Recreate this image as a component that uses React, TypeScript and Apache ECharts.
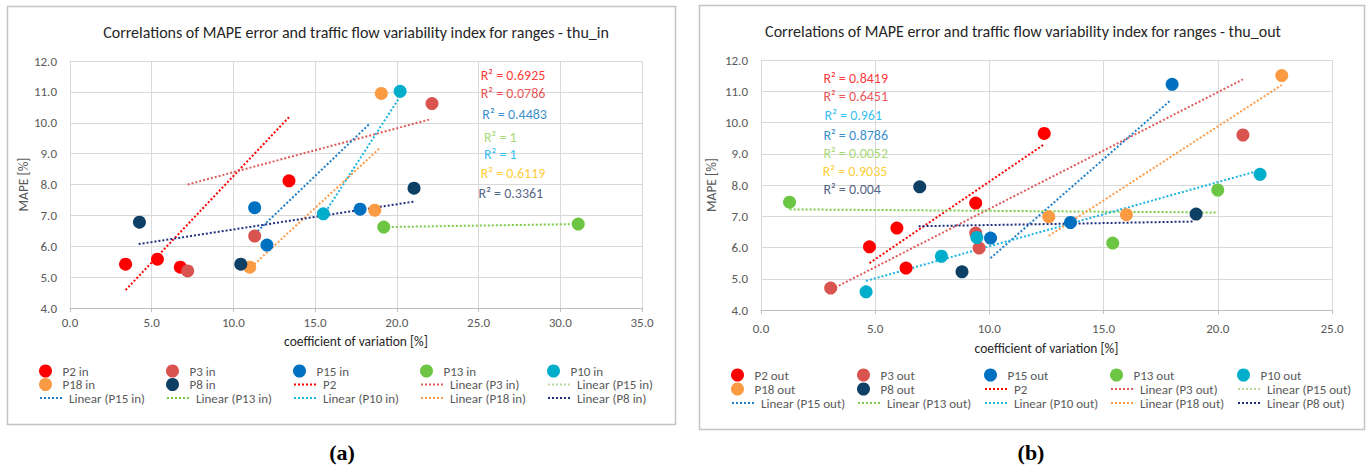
import React, { useEffect, useRef } from "react";
import * as echarts from "echarts";

const FONT = "Carlito, Lato, 'Noto Sans', sans-serif";

// ---------- chart (a): thu_in ----------
const inTitle = "Correlations of MAPE error and traffic flow variability index for ranges - thu_in";
const inP2 = [[3.4, 5.42], [5.35, 5.58], [6.75, 5.32], [13.4, 8.12]];
const inP3 = [[7.2, 5.2], [11.3, 6.33], [22.15, 10.62]];
const inP15 = [[11.3, 7.25], [12.05, 6.04], [17.75, 7.2]];
const inP13 = [[19.2, 6.62], [31.1, 6.72]];
const inP10 = [[15.5, 7.05], [20.2, 11.02]];
const inP18 = [[11.0, 5.32], [18.65, 7.17], [19.05, 10.95]];
const inP8 = [[4.25, 6.78], [10.45, 5.42], [21.05, 7.88]];

const inTrendP2 = [[3.4, 4.58], [13.4, 10.18]];
const inTrendP3 = [[7.2, 8.0], [22.1, 10.12]];
const inTrendP15 = [[11.3, 6.4], [18.3, 9.95]];
const inTrendP13 = [[19.2, 6.62], [31.1, 6.72]];
const inTrendP10 = [[15.5, 7.0], [20.2, 10.85]];
const inTrendP18 = [[11.1, 5.33], [19.0, 9.2]];
const inTrendP8 = [[4.2, 6.07], [21.1, 7.45]];

const inR2Text = ["R² = 0.6925", "R² = 0.0786", "R² = 0.4483", "R² = 1", "R² = 1", "R² = 0.6119", "R² = 0.3361"];
const inR2X = [25.1, 25.1, 25.2, 25.3, 25.3, 25.1, 24.97];
const inR2Y = [11.54, 10.96, 10.28, 9.53, 8.98, 8.37, 7.72];

// ---------- chart (b): thu_out ----------
const outTitle = "Correlations of MAPE error and traffic flow variability index for ranges - thu_out";
const outP2 = [[4.75, 6.02], [5.95, 6.62], [6.35, 5.34], [9.4, 7.42], [12.4, 9.65]];
const outP3 = [[3.05, 4.7], [9.4, 6.46], [9.55, 5.98], [21.1, 9.6]];
const outP15 = [[10.05, 6.3], [13.55, 6.8], [18.0, 11.22]];
const outP13 = [[1.25, 7.45], [15.4, 6.14], [20.0, 7.84]];
const outP10 = [[4.6, 4.58], [7.9, 5.72], [9.45, 6.32], [21.85, 8.34]];
const outP18 = [[12.6, 6.98], [16.0, 7.05], [22.8, 11.5]];
const outP8 = [[6.95, 7.94], [8.8, 5.22], [19.05, 7.07]];

const outTrendP2 = [[4.75, 5.5], [12.35, 9.28]];
const outTrendP3 = [[3.25, 4.72], [21.1, 11.38]];
const outTrendP15 = [[10.05, 5.66], [17.95, 10.72]];
const outTrendP13 = [[1.25, 7.22], [20.0, 7.12]];
const outTrendP10 = [[4.6, 4.93], [21.6, 8.42]];
const outTrendP18 = [[12.6, 6.37], [22.8, 11.2]];
const outTrendP8 = [[6.9, 6.68], [18.9, 6.83]];

const outR2Text = ["R² = 0.8419", "R² = 0.6451", "R² = 0.961", "R² = 0.8786", "R² = 0.0052", "R² = 0.9035", "R² = 0.004"];
const outR2X = [2.71, 2.71, 2.76, 2.71, 2.71, 2.68, 2.71];
const outR2Y = [11.42, 10.82, 10.21, 9.57, 9.02, 8.42, 7.87];

// axes
const inXRange = [0, 35, 5];
const outXRange = [0, 25, 5];
const yRange = [4, 12, 1];

// colours
const C = {
  p2: "#FF0000",
  p3: "#D9534F",
  p15: "#0070C0",
  p13: "#6CC644",
  p10: "#00AECB",
  p18: "#FA9B43",
  p8: "#0E4066",
  t3: "#E05A5A",
  t15: "#1F7FC8",
  t13: "#7ACC48",
  t10: "#1CB4E0",
  t18: "#FF9A45",
  t8: "#1F2F80",
  light: "#B7DB9C",
};
const inR2Color = ["#FF0000", "#E8262A", "#0070C0", "#92D050", "#00B0F0", "#FFC000", "#1F3864"];
const outR2Color = ["#FF0000", "#E8262A", "#00B0F0", "#0070C0", "#92D050", "#FFC000", "#1F3864"];

function scatter(name: string, data: number[][], color: string, ai: number) {
  return { type: "scatter", name, data, xAxisIndex: ai, yAxisIndex: ai, symbolSize: 13, color, itemStyle: { color, opacity: 1 }, z: 4 };
}
function trend(name: string, data: number[][], color: string, ai: number, width = 2) {
  return {
    type: "line", name, data, xAxisIndex: ai, yAxisIndex: ai, symbol: "none", color,
    lineStyle: { color, width, type: "dotted" }, z: 3, silent: true,
  };
}
function r2(name: string, xs: number[], ys: number[], texts: string[], colors: string[], ai: number) {
  return {
    type: "scatter", name, xAxisIndex: ai, yAxisIndex: ai, symbolSize: 1, silent: true,
    itemStyle: { color: "rgba(0,0,0,0)" }, z: 6,
    label: { show: true, position: "right", distance: 0, fontSize: 14, fontFamily: FONT },
    data: xs.map((x, i) => ({ value: [x, ys[i]], label: { formatter: texts[i], color: colors[i] } })),
  };
}

function axes(ai: number, xr: number[], grid: any) {
  const label = { color: "#595959", fontSize: 13, fontFamily: FONT, formatter: (v: number) => v.toFixed(1) };
  return {
    x: {
      type: "value", gridIndex: ai, min: xr[0], max: xr[1], interval: xr[2],
      name: "coefficient of variation [%]", nameLocation: "middle", nameGap: grid.xGap,
      nameTextStyle: { color: "#262626", fontSize: 13.5, fontFamily: FONT },
      axisLine: { show: true, lineStyle: { color: "#BFBFBF" } },
      axisTick: { show: true, length: 4, lineStyle: { color: "#BFBFBF" } },
      axisLabel: { ...label, margin: grid.xMargin },
      splitLine: { show: true, lineStyle: { color: "#D9D9D9" } },
    },
    y: {
      type: "value", gridIndex: ai, min: yRange[0], max: yRange[1], interval: yRange[2],
      name: "MAPE [%]", nameLocation: "middle", nameGap: grid.yGap,
      nameTextStyle: { color: "#595959", fontSize: 13.5, fontFamily: FONT },
      axisLine: { show: true, lineStyle: { color: "#D9D9D9" } },
      axisTick: { show: false },
      axisLabel: { ...label, margin: 13 },
      splitLine: { show: true, lineStyle: { color: "#D9D9D9" } },
    },
  };
}

const inLegend = [
  "P2 in", "P3 in", "P15 in", "P13 in", "P10 in",
  "P18 in", "P8 in", "P2", "Linear (P3 in)", "Linear (P15 in) ",
  "Linear (P15 in)", "Linear (P13 in)", "Linear (P10 in)", "Linear (P18 in)", "Linear (P8 in)",
];
const outLegend = [
  "P2 out", "P3 out", "P15 out", "P13 out", "P10 out",
  "P18 out", "P8 out", "P2", "Linear (P3 out)", "Linear (P15 out) ",
  "Linear (P15 out)", "Linear (P13 out)", "Linear (P10 out)", "Linear (P18 out)", "Linear (P8 out)",
];

function legends(names: string[], cols: number[], rows: number[]) {
  return names.map((n, i) => {
    const isLine = i >= 7;
    return {
      data: [isLine ? { name: n, itemStyle: { opacity: 0, borderWidth: 0 } } : { name: n }],
      left: cols[i % 5],
      top: rows[Math.floor(i / 5)],
      orient: "horizontal",
      itemWidth: 24,
      itemHeight: 13,
      itemGap: 0,
      padding: 0,
      selectedMode: false,
      textStyle: { color: "#595959", fontSize: 13, fontFamily: FONT },
    };
  });
}

export default function App() {
  const ref = useRef<HTMLDivElement>(null);
  useEffect(() => {
    if (!ref.current) return;
    const chart = echarts.init(ref.current, null, { renderer: "svg" });
    const a = axes(0, inXRange, { xGap: 26, xMargin: 8, yGap: 40 });
    const b = axes(1, outXRange, { xGap: 31, xMargin: 12, yGap: 43 });
    const titleStyle = { fontSize: 16, fontWeight: "normal", color: "#262626", fontFamily: FONT };
    const option: any = {
      animation: false,
      backgroundColor: "#ffffff",
      textStyle: { fontFamily: FONT },
      title: [
        { text: inTitle, left: 356, top: 24, textAlign: "center", padding: 0, textStyle: titleStyle },
        { text: outTitle, left: 1023, top: 23, textAlign: "center", padding: 0, textStyle: titleStyle },
      ],
      grid: [
        { left: 70, top: 61, width: 572, height: 247 },
        { left: 761, top: 60, width: 571, height: 250 },
      ],
      xAxis: [a.x, b.x],
      yAxis: [a.y, b.y],
      legend: [
        ...legends(inLegend, [39, 166, 293, 420, 547], [364.5, 378, 391.5]),
        ...legends(outLegend, [731, 857, 984, 1110, 1237], [368.5, 382.5, 396.5]),
      ],
      graphic: [
        { type: "rect", shape: { x: 7.5, y: 6.5, width: 668, height: 418 }, style: { fill: "none", stroke: "#C4C4C4", lineWidth: 1.5 }, silent: true },
        { type: "rect", shape: { x: 699.5, y: 5.5, width: 665, height: 424 }, style: { fill: "none", stroke: "#C4C4C4", lineWidth: 1.5 }, silent: true },
        { type: "text", x: 342, y: 452, style: { text: "(a)", fill: "#000", font: "bold 22px 'Liberation Serif', 'DejaVu Serif', serif", textAlign: "center", textVerticalAlign: "middle" } },
        { type: "text", x: 1031, y: 452, style: { text: "(b)", fill: "#000", font: "bold 22px 'Liberation Serif', 'DejaVu Serif', serif", textAlign: "center", textVerticalAlign: "middle" } },
      ],
      series: [
        trend("P2", inTrendP2, C.p2, 0),
        trend("Linear (P3 in)", inTrendP3, C.t3, 0),
        trend("Linear (P15 in) ", [], C.light, 0, 1),
        trend("Linear (P15 in)", inTrendP15, C.t15, 0),
        trend("Linear (P13 in)", inTrendP13, C.t13, 0),
        trend("Linear (P10 in)", inTrendP10, C.t10, 0),
        trend("Linear (P18 in)", inTrendP18, C.t18, 0),
        trend("Linear (P8 in)", inTrendP8, C.t8, 0),
        scatter("P2 in", inP2, C.p2, 0),
        scatter("P3 in", inP3, C.p3, 0),
        scatter("P15 in", inP15, C.p15, 0),
        scatter("P13 in", inP13, C.p13, 0),
        scatter("P10 in", inP10, C.p10, 0),
        scatter("P18 in", inP18, C.p18, 0),
        scatter("P8 in", inP8, C.p8, 0),
        r2("R2 in", inR2X, inR2Y, inR2Text, inR2Color, 0),

        trend("P2 (out)", outTrendP2, C.p2, 1),
        trend("Linear (P3 out)", outTrendP3, C.t3, 1),
        trend("Linear (P15 out) ", [], C.light, 1, 1),
        trend("Linear (P15 out)", outTrendP15, C.t15, 1),
        trend("Linear (P13 out)", outTrendP13, C.t13, 1),
        trend("Linear (P10 out)", outTrendP10, C.t10, 1),
        trend("Linear (P18 out)", outTrendP18, C.t18, 1),
        trend("Linear (P8 out)", outTrendP8, C.t8, 1),
        scatter("P2 out", outP2, C.p2, 1),
        scatter("P3 out", outP3, C.p3, 1),
        scatter("P15 out", outP15, C.p15, 1),
        scatter("P13 out", outP13, C.p13, 1),
        scatter("P10 out", outP10, C.p10, 1),
        scatter("P18 out", outP18, C.p18, 1),
        scatter("P8 out", outP8, C.p8, 1),
        r2("R2 out", outR2X, outR2Y, outR2Text, outR2Color, 1),
      ],
    };
    chart.setOption(option);
    return () => chart.dispose();
  }, []);
  return <div ref={ref} style={{ position: "fixed", left: 0, top: 0, width: 1368, height: 474 }} />;
}
